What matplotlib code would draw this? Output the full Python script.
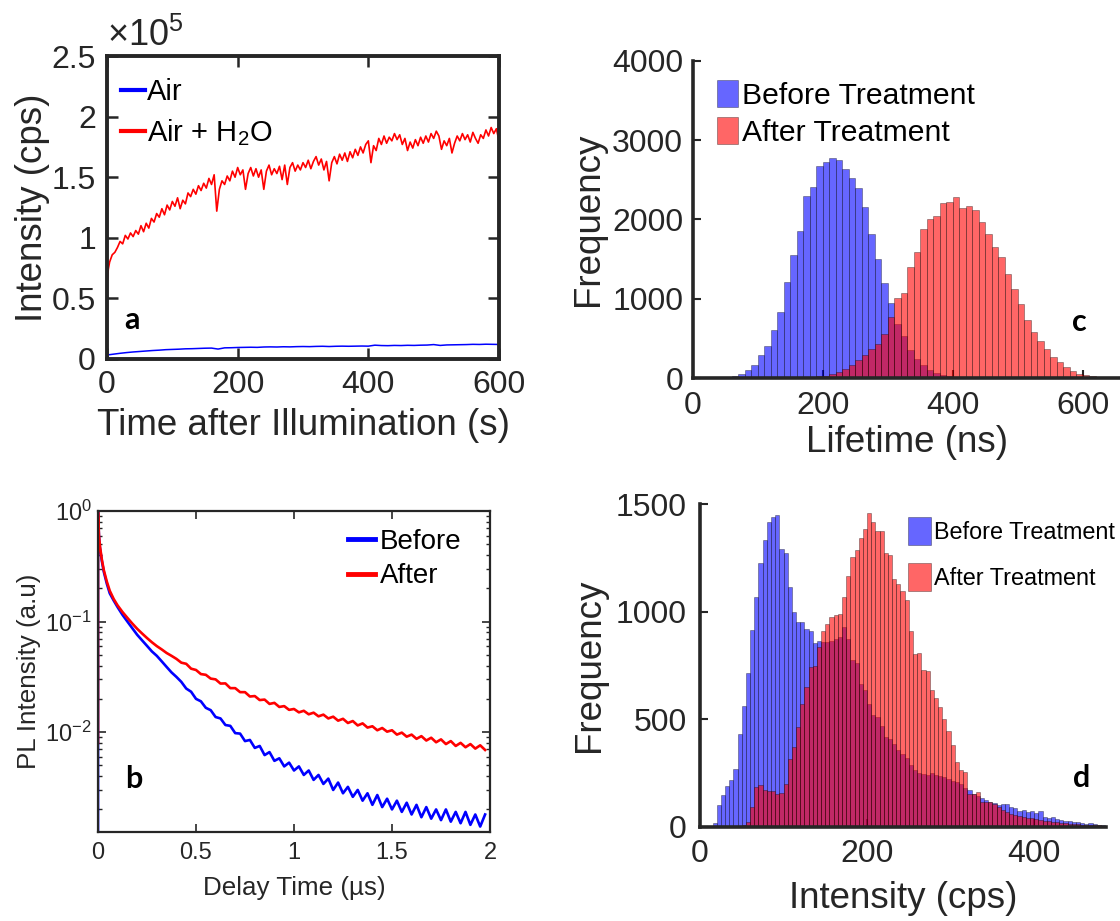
import numpy as np
import matplotlib
matplotlib.use('Agg')
import matplotlib.pyplot as plt
from matplotlib.ticker import LogLocator, NullFormatter

plt.rcParams['font.family'] = ['Liberation Sans', 'DejaVu Sans']
plt.rcParams['mathtext.fontset'] = 'custom'
plt.rcParams['mathtext.rm'] = 'Liberation Sans'
plt.rcParams['mathtext.it'] = 'Liberation Sans:italic'
plt.rcParams['mathtext.bf'] = 'Liberation Sans:bold'

# ---------------- data: panel a (intensity in units of 1e5 cps) ----------------
a_air_time = np.arange(0, 601, 10)
a_air_vals = [0.033, 0.040, 0.047, 0.053, 0.058, 0.062, 0.066, 0.070, 0.073, 0.077,
              0.079, 0.081, 0.084, 0.085, 0.087, 0.089, 0.090, 0.082, 0.092, 0.093,
              0.095, 0.096, 0.097, 0.096, 0.099, 0.100, 0.099, 0.101, 0.100, 0.102,
              0.103, 0.102, 0.104, 0.105, 0.103, 0.105, 0.106, 0.105, 0.106, 0.107,
              0.106, 0.114, 0.111, 0.110, 0.112, 0.111, 0.113, 0.112, 0.114, 0.115,
              0.119, 0.112, 0.116, 0.117, 0.118, 0.119, 0.121, 0.120, 0.122, 0.121,
              0.120]
a_wet_time = np.concatenate([[0, 0, 1, 2], np.arange(4, 601, 4)])
a_wet_vals = [0.0, 0.62, 0.68, 0.74,
              0.80, 0.86, 0.88, 0.92, 0.97, 0.95, 1.02, 0.99, 1.04, 1.01,
              1.06, 1.03, 1.10, 1.05, 1.12, 1.08, 1.16, 1.13, 1.20, 1.17,
              1.24, 1.19, 1.27, 1.23, 1.30, 1.26, 1.33, 1.24, 1.31, 1.28,
              1.37, 1.34, 1.40, 1.36, 1.43, 1.39, 1.45, 1.41, 1.49, 1.44,
              1.52, 1.22, 1.40, 1.47, 1.44, 1.51, 1.47, 1.55, 1.50, 1.58,
              1.52, 1.56, 1.40, 1.53, 1.58, 1.51, 1.57, 1.50, 1.56, 1.40,
              1.55, 1.60, 1.52, 1.57, 1.53, 1.59, 1.48, 1.60, 1.44, 1.58,
              1.62, 1.55, 1.60, 1.56, 1.62, 1.58, 1.64, 1.57, 1.63, 1.67,
              1.60, 1.65, 1.56, 1.63, 1.47, 1.62, 1.67, 1.61, 1.69, 1.64,
              1.70, 1.63, 1.71, 1.66, 1.73, 1.68, 1.75, 1.70, 1.77, 1.80,
              1.62, 1.76, 1.72, 1.82, 1.77, 1.84, 1.78, 1.83, 1.80, 1.86,
              1.81, 1.85, 1.77, 1.82, 1.72, 1.79, 1.74, 1.81, 1.76, 1.83,
              1.78, 1.84, 1.79, 1.86, 1.82, 1.88, 1.84, 1.73, 1.80, 1.76,
              1.82, 1.70, 1.78, 1.84, 1.80, 1.86, 1.81, 1.85, 1.79, 1.87,
              1.82, 1.78, 1.85, 1.82, 1.89, 1.84, 1.91, 1.86, 1.90, 1.80]

# ---------------- data: panel b (PL decay) ----------------
b_time = np.concatenate([[0, 0, 0.005, 0.01, 0.02, 0.03, 0.045, 0.06, 0.08],
                         np.arange(0.1, 1.99, 0.025)])
b_before = [0.0013, 1.0, 0.58, 0.46, 0.35, 0.28, 0.22, 0.18, 0.155,
            0.135, 0.115, 0.100, 0.0871, 0.0759, 0.0676, 0.0603, 0.0537, 0.0490, 0.0437,
            0.0389, 0.0347, 0.0316, 0.0285, 0.0248, 0.0232, 0.0200, 0.0190, 0.0166, 0.0158,
            0.0137, 0.0133, 0.0116, 0.0114, 0.0098, 0.0097, 0.0083, 0.0085, 0.0072, 0.0075,
            0.0062, 0.0066, 0.0055, 0.0058, 0.0049, 0.0053, 0.0045,
            0.0049, 0.0041, 0.0045, 0.0037, 0.0041, 0.0034, 0.0038, 0.0030, 0.0035, 0.0028,
            0.0032, 0.0026, 0.0030, 0.0024, 0.0028, 0.0022, 0.0027, 0.0021, 0.0025, 0.0020,
            0.0024, 0.0019, 0.0023, 0.0018, 0.0022, 0.0017, 0.0021, 0.00165, 0.0020, 0.0016,
            0.0020, 0.00155, 0.0019, 0.00150, 0.0019, 0.00145, 0.0018, 0.00140, 0.0018]
b_after = [0.008, 1.0, 0.60, 0.48, 0.36, 0.29, 0.23, 0.19, 0.16,
           0.140, 0.122, 0.108, 0.096, 0.086, 0.078, 0.071, 0.065, 0.060, 0.056,
           0.052, 0.049, 0.046, 0.0425, 0.0415, 0.0375, 0.0365, 0.0335, 0.0330, 0.0305,
           0.0300, 0.0275, 0.0276, 0.0250, 0.0250, 0.0230, 0.0230, 0.0210, 0.0212, 0.0195,
           0.0197, 0.0180, 0.0184, 0.0169, 0.0172, 0.0159, 0.0162,
           0.0151, 0.0156, 0.0145, 0.0150, 0.0139, 0.0144, 0.0133, 0.0138, 0.0127, 0.0132,
           0.0121, 0.0126, 0.0115, 0.0120, 0.0110, 0.0113, 0.0104, 0.0109, 0.0101, 0.0104,
           0.0095, 0.0099, 0.0091, 0.0095, 0.0087, 0.0092, 0.0084, 0.0089, 0.0081, 0.0086,
           0.0078, 0.0083, 0.0075, 0.0080, 0.0073, 0.0078, 0.0071, 0.0076, 0.0069]

# ---------------- data: panel c (lifetime histogram, 10 ns bins) ----------------
c_bin_left = np.arange(0, 650, 10)
c_before = [0, 0, 3, 5, 8, 15, 30, 55, 96, 160,
            285, 410, 600, 838, 1207, 1550, 1856, 2296, 2409, 2680,
            2723, 2774, 2749, 2640, 2518, 2400, 2162, 1814, 1500, 1198,
            947, 683, 536, 348, 243, 160, 100, 60, 40, 25,
            15, 10, 7, 5, 3, 2, 1, 0, 0, 0,
            0, 0, 0, 0, 0, 0, 0, 0, 0, 0,
            0, 0, 0, 0, 0]
c_after = [0, 0, 0, 0, 0, 0, 0, 0, 0, 0,
           0, 0, 0, 0, 0, 3, 5, 8, 12, 20,
           30, 55, 75, 117, 160, 222, 285, 369, 432, 557,
           767, 1006, 1073, 1395, 1584, 1877, 2003, 2045, 2212, 2221,
           2288, 2149, 2170, 2116, 1970, 1814, 1647, 1529, 1311, 1123,
           934, 737, 578, 473, 360, 264, 201, 138, 84, 55,
           34, 25, 17, 12, 8]

# ---------------- data: panel d (intensity histogram, 5 cps bins) ----------------
d_bin_left = np.arange(0, 485, 5)
d_before = [0, 0, 0, 20, 100, 147, 189, 220, 270, 433,
            560, 714, 915, 1070, 1224, 1333, 1418, 1441, 1449, 1291,
            1271, 1113, 997, 951, 951, 920, 912, 853, 866, 858,
            858, 866, 873, 884, 930, 873, 776, 761, 665, 634,
            572, 522, 510, 471, 417, 410, 386, 356, 340, 320,
            290, 265, 250, 245, 240, 250, 240, 235, 230, 225,
            215, 210, 200, 180, 170, 155, 145, 135, 125, 115,
            110, 100, 105, 108, 95, 90, 75, 80, 70, 72,
            65, 75, 45, 40, 45, 35, 32, 30, 28, 25,
            22, 20, 15, 18, 12, 10, 8]
d_after = [0, 0, 0, 0, 0, 0, 0, 0, 2, 5,
           10, 25, 95, 185, 193, 170, 167, 165, 155, 158,
           200, 317, 371, 464, 572, 649, 742, 750, 835, 909,
           943, 974, 986, 990, 1067, 1167, 1252, 1286, 1342, 1384,
           1456, 1415, 1376, 1373, 1271, 1265, 1152, 1129, 1098, 1054,
           909, 804, 807, 727, 724, 634, 600, 557, 502, 448,
           379, 302, 263, 255, 155, 155, 162, 116, 116, 116,
           108, 93, 77, 70, 62, 55, 50, 45, 42, 40,
           36, 33, 30, 27, 25, 22, 20, 18, 16, 14,
           12, 11, 10, 9, 8, 7, 6]

hist_labels = ['Before Treatment', 'After Treatment']

# ---------------- figure ----------------
W, H = 1120, 921
fig = plt.figure(figsize=(W / 100, H / 100), dpi=100)
AX = '#262626'


def px_axes(l, t, r, b):
    return fig.add_axes([l / W, 1 - b / H, (r - l) / W, (b - t) / H])


def place_labels(ax, xl, yl, fs, xy_x, xy_y):
    ax.set_xlabel(xl, fontsize=fs, color=AX)
    ax.set_ylabel(yl, fontsize=fs, color=AX)
    ax.xaxis.label.set_va('center')
    ax.yaxis.label.set_va('center')
    ax.xaxis.set_label_coords(xy_x[0], xy_x[1])
    ax.yaxis.set_label_coords(xy_y[0], xy_y[1])


def letter(ax, x, y, s):
    ax.text(x, y, s, transform=ax.transAxes, ha='center', va='center',
            fontsize=22, fontweight='bold', family=['Lato', 'DejaVu Sans'], color='black')


# ---- panel a ----
ax_a = px_axes(107, 56, 499, 359)
ax_a.plot(a_air_time, a_air_vals, color=(0, 0, 1), lw=1.1, label='Air')
ax_a.plot(a_wet_time, a_wet_vals, color=(1, 0, 0), lw=1.2, label='Air + H$_2$O')
ax_a.set_xlim(0, 600)
ax_a.set_ylim(0, 2.5)
ax_a.set_xticks([0, 200, 400, 600])
ax_a.set_yticks([0, 0.5, 1, 1.5, 2, 2.5])
ax_a.set_yticklabels(['0', '0.5', '1', '1.5', '2', '2.5'])
ax_a.tick_params(direction='in', top=True, right=True, length=8, width=1.8,
                 labelsize=23, pad=8, color=AX, labelcolor=AX)
for s in ax_a.spines.values():
    s.set_linewidth(2.8)
    s.set_color(AX)
place_labels(ax_a, 'Time after Illumination (s)', 'Intensity (cps)', 26.5,
             (0.5, -0.221), (-0.19, 0.5))
ax_a.text(0.0, 1.005, r'$\times10^{5}$', transform=ax_a.transAxes, fontsize=26,
          ha='left', va='bottom', color=AX)
leg = ax_a.legend(loc='upper left', bbox_to_anchor=(0.036, 0.928), frameon=False,
                  fontsize=21, handlelength=0.83, handletextpad=0.05,
                  labelspacing=0.38, borderpad=0, borderaxespad=0)
for ln in leg.get_lines():
    ln.set_linewidth(3)
letter(ax_a, 0.064, 0.129, 'a')

# ---- panel b ----
ax_b = px_axes(98, 511, 490, 832)
ax_b.semilogy(b_time, b_before, color=(0, 0, 1), lw=1.9, label='Before')
ax_b.semilogy(b_time, b_after, color=(1, 0, 0), lw=1.9, label='After')
ax_b.set_xlim(0, 2)
ax_b.set_ylim(1.25e-3, 1)
ax_b.set_xticks([0, 0.5, 1, 1.5, 2])
ax_b.set_xticklabels(['0', '0.5', '1', '1.5', '2'])
ax_b.yaxis.set_major_locator(LogLocator(base=10))
ax_b.yaxis.set_minor_locator(LogLocator(base=10, subs=np.arange(2, 10)))
ax_b.yaxis.set_minor_formatter(NullFormatter())
ax_b.tick_params(which='both', direction='in', top=True, right=True, color=AX,
                 labelcolor=AX)
ax_b.tick_params(which='major', length=6, width=1.2, labelsize=17)
ax_b.tick_params(axis='x', which='major', pad=7)
ax_b.tick_params(axis='y', which='major', pad=4.5)
ax_b.tick_params(which='minor', length=3, width=1.0)
for s in ax_b.spines.values():
    s.set_linewidth(1.6)
    s.set_color(AX)
place_labels(ax_b, 'Delay Time (µs)', 'PL Intensity (a.u)', 18.7,
             (0.5, -0.174), (-0.175, 0.5))
leg = ax_b.legend(loc='upper left', bbox_to_anchor=(0.638, 0.944), frameon=False,
                  fontsize=20, handlelength=0.97, handletextpad=0.18,
                  labelspacing=0.3, borderpad=0, borderaxespad=0)
for ln in leg.get_lines():
    ln.set_linewidth(3.5)
letter(ax_b, 0.092, 0.165, 'b')


def hist_axes(ax, left, before, after, width):
    ax.bar(left, before, width=width, align='edge', color=(0, 0, 1, 0.6),
           edgecolor=(0, 0, 0, 0.45), linewidth=0.5, label=hist_labels[0])
    ax.bar(left, after, width=width, align='edge', color=(1, 0, 0, 0.6),
           edgecolor=(0, 0, 0, 0.45), linewidth=0.5, label=hist_labels[1])
    ax.set_axisbelow(True)
    ax.spines['top'].set_visible(False)
    ax.spines['right'].set_visible(False)
    for k in ('left', 'bottom'):
        ax.spines[k].set_linewidth(2.6)
        ax.spines[k].set_color(AX)
    ax.tick_params(direction='in', length=6, width=1.5, labelsize=23,
                   color=AX, labelcolor=AX)


# ---- panel c ----
ax_c = px_axes(693, 61, 1120, 378)
hist_axes(ax_c, c_bin_left, c_before, c_after, 10)
ax_c.set_xlim(0, 657)
ax_c.set_ylim(0, 4000)
ax_c.set_xticks([0, 200, 400, 600])
ax_c.set_yticks([0, 1000, 2000, 3000, 4000])
ax_c.tick_params(axis='x', pad=9.5)
ax_c.tick_params(axis='y', pad=7)
place_labels(ax_c, 'Lifetime (ns)', 'Frequency', 26.5, (0.5, -0.205), (-0.245, 0.5))
ax_c.legend(loc='upper left', bbox_to_anchor=(0.056, 0.94), frameon=False,
            fontsize=21.7, handlelength=0.7, handleheight=1.0, handletextpad=0.13,
            labelspacing=0.25, borderpad=0, borderaxespad=0)
letter(ax_c, 0.906, 0.177, 'c')

# ---- panel d ----
ax_d = px_axes(700, 504, 1106, 827)
hist_axes(ax_d, d_bin_left, d_before, d_after, 5)
ax_d.set_xlim(0, 486)
ax_d.set_ylim(0, 1500)
ax_d.set_xticks([0, 200, 400])
ax_d.set_yticks([0, 500, 1000, 1500])
ax_d.tick_params(axis='x', pad=8.6)
ax_d.tick_params(axis='y', pad=9.4)
place_labels(ax_d, 'Intensity (cps)', 'Frequency', 26.5, (0.5, -0.22), (-0.273, 0.5))
ax_d.legend(loc='upper left', bbox_to_anchor=(0.512, 0.96), frameon=False,
            fontsize=16.8, handlelength=0.99, handleheight=1.5, handletextpad=0.13,
            labelspacing=0.75, borderpad=0, borderaxespad=0)
letter(ax_d, 0.941, 0.152, 'd')

fig.savefig('out.png', dpi=100)
